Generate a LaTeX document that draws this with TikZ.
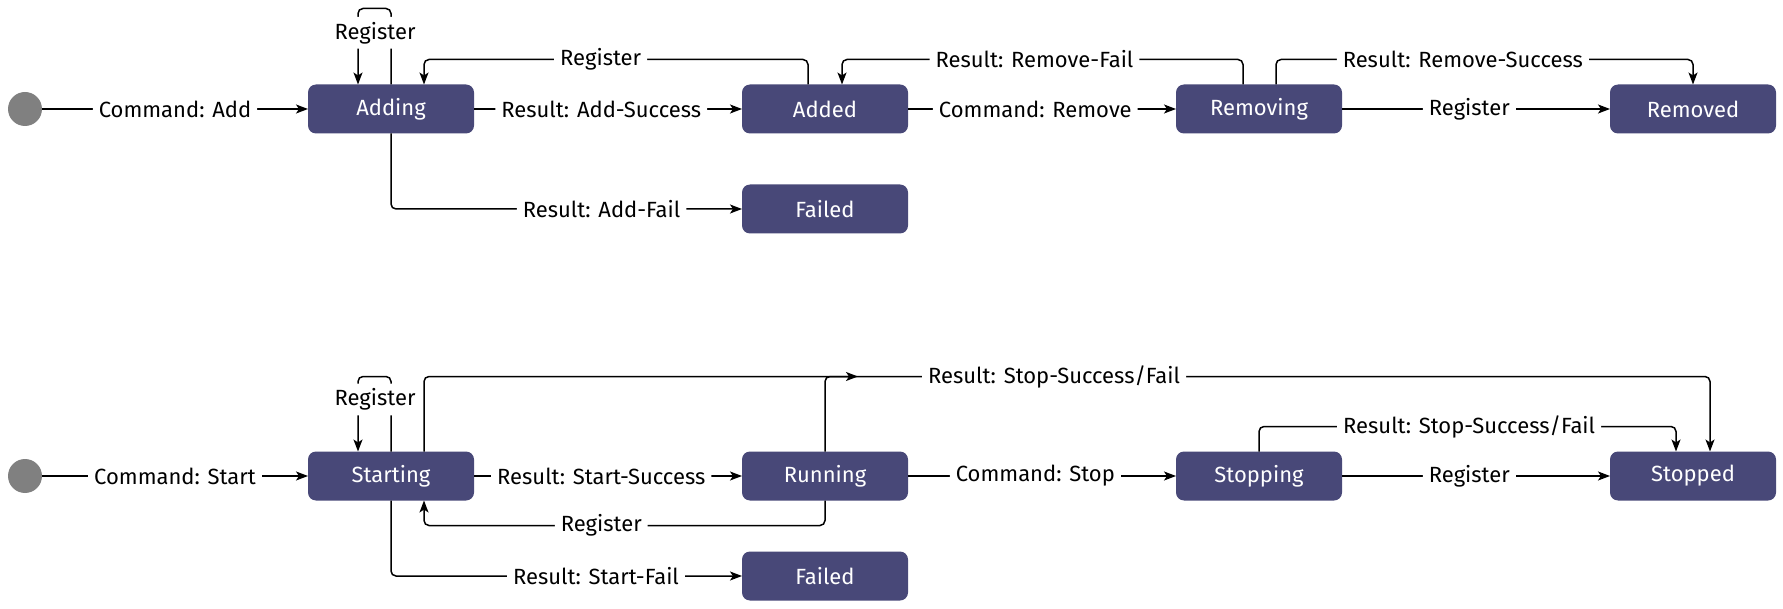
\documentclass[tikz,border=0pt]{standalone}
\usepackage{fontspec}
\setmainfont{Fira Sans}
\usetikzlibrary{arrows.meta,positioning}
\definecolor{statebg}{RGB}{72,72,120}

\begin{document}
\begin{tikzpicture}[x=0.5pt, y=-0.5pt, node distance=134pt, font=\fontsize{11}{13}\selectfont,
    state/.style={rectangle, rounded corners=4pt, fill=statebg, text=white, minimum width=83pt, minimum height=24.5pt, outer sep=0pt},
    start/.style={circle, fill=gray, minimum size=17pt, inner sep=0pt, outer sep=0pt},
    lbl/.style={fill=white, inner xsep=3pt, inner ysep=2.5pt},
    tr/.style={-{Stealth[length=6pt, width=4.5pt, inset=1.5pt]}, line width=0.75pt, rounded corners=2.5pt}]
    \useasboundingbox (0,0) rectangle (1783,609);

    % add / remove
    \node[start] (s1) at (25,109) {};
    \node[state, right=133pt of s1] (adding) {Adding};
    \node[state, right=of adding] (added) {Added};
    \node[state, right=of added] (removing) {Removing};
    \node[state, right=of removing] (removed) {Removed};
    \node[state, below=25.5pt of added] (failed1) {Failed};

    \draw[tr] (s1) -- node[lbl]{Command: Add} (adding);
    \draw[tr] (adding) -- node[lbl, pos=.475]{Result: Add-Success} (added);
    \draw[tr] (added) -- node[lbl, pos=.475]{Command: Remove} (removing);
    \draw[tr] (removing) -- node[lbl, pos=.475]{Register} (removed);
    \draw[tr] (adding.north) -- ++(0,-76) -| node[lbl, pos=.66, xshift=8.5pt]{Register} ([xshift=-16.5pt]adding.north);
    \draw[tr] ([xshift=-8.5pt]added.north) -- ++(0,-25) -| node[lbl, pos=.27]{Register} ([xshift=16.5pt]adding.north);
    \draw[tr] ([xshift=-8pt]removing.north) -- ++(0,-25) -| node[lbl, pos=.26]{Result: Remove-Fail} ([xshift=8.5pt]added.north);
    \draw[tr] ([xshift=8.5pt]removing.north) -- ++(0,-25) -| node[lbl, pos=.224]{Result: Remove-Success} (removed.north);
    \draw[tr] (adding.south) |- node[lbl, pos=.8]{Result: Add-Fail} (failed1);

    % start / stop
    \node[start] (s2) at (25,476) {};
    \node[state, right=133pt of s2] (starting) {Starting};
    \node[state, right=of starting] (running) {Running};
    \node[state, right=of running] (stopping) {Stopping};
    \node[state, right=of stopping] (stopped) {Stopped};
    \node[state, below=25.5pt of running] (failed2) {Failed};
    \coordinate (merge) at ([xshift=16.5pt, yshift=37.5pt]running.north);

    \draw[tr] (s2) -- node[lbl]{Command: Start} (starting);
    \draw[tr] (starting) -- node[lbl, pos=.475]{Result: Start-Success} (running);
    \draw[tr] (running) -- node[lbl, pos=.475]{Command: Stop} (stopping);
    \draw[tr] (stopping) -- node[lbl, pos=.475]{Register} (stopped);
    \draw[tr] (starting.north) -- ++(0,-75) -| node[lbl, pos=.653, xshift=8.5pt]{Register} ([xshift=-16.5pt]starting.north);
    \draw[tr] ([xshift=16.5pt]starting.north) -- ++(0,-75) -| node[lbl, pos=.245]{Result: Stop-Success/Fail} ([xshift=8.5pt]stopped.north);
    \draw[tr] (running.north) |- (merge);
    \draw[tr] (running.south) -- ++(0,25) -| node[lbl, pos=.279]{Register} ([xshift=16.5pt]starting.south);
    \draw[tr] (stopping.north) -- ++(0,-25) -| node[lbl, pos=.252]{Result: Stop-Success/Fail} ([xshift=-8.5pt]stopped.north);
    \draw[tr] (starting.south) |- node[lbl, pos=.792]{Result: Start-Fail} (failed2);
\end{tikzpicture}
\end{document}
